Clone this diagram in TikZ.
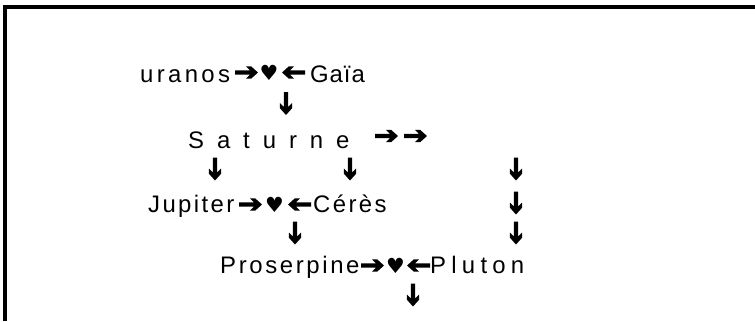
\documentclass[tikz,border=0pt]{standalone}
\usepackage{fontspec}
\setmainfont{Liberation Sans}
\newfontfamily\symfont{DejaVu Sans}
\begin{document}
\begin{tikzpicture}[x=1bp,y=-1bp,
  word/.style={anchor=base west,inner sep=0pt,font=\fontsize{24}{28}\selectfont},
  heart/.style={inner sep=0pt,font=\symfont\fontsize{21}{24}\selectfont},
  bigarrow/.pic={\fill (-11.5,-2.1) -- (3.5,-2.1) -- (-0.5,-6.2) -- (4.6,-6.2) -- (11.5,0)
      -- (4.6,6.2) -- (-0.5,6.2) -- (3.5,2.1) -- (-11.5,2.1) -- cycle;}]
\useasboundingbox (0,0) rectangle (755,321);
\draw[line width=3.6bp] (5,321) -- (5,7) -- (755,7);
% row 1
\node[word] (uranos) at (140,82) {\addfontfeature{LetterSpace=14}uranos};
\pic (r1) at (246.5,72.5) {bigarrow};
\node[heart] (h1) at (269,73) {♥};
\pic[rotate=180] (l1) at (293.5,72.5) {bigarrow};
\node[word] (gaia) at (310,82) {\addfontfeature{LetterSpace=4}Gaïa};
\pic[rotate=-90] (d1) at (286,103.5) {bigarrow};
% row 2
\node[word] (saturne) at (188,148) {\addfontfeature{LetterSpace=54}Saturne};
\pic (r2a) at (386.5,136) {bigarrow};
\pic (r2b) at (415.5,136) {bigarrow};
\pic[rotate=-90] (d2a) at (215,169) {bigarrow};
\pic[rotate=-90] (d2b) at (350,169) {bigarrow};
\pic[rotate=-90] (d2c) at (516,169) {bigarrow};
% row 3
\node[word] (jupiter) at (148,212) {\addfontfeature{LetterSpace=10}Jupiter};
\pic (r3) at (250.5,204.5) {bigarrow};
\node[heart] (h3) at (274.5,205) {♥};
\pic[rotate=180] (l3) at (299.5,204.5) {bigarrow};
\node[word] (ceres) at (313,212) {\addfontfeature{LetterSpace=10}Cérès};
\pic[rotate=-90] (d3c) at (516,203) {bigarrow};
\pic[rotate=-90] (d4a) at (295,233) {bigarrow};
\pic[rotate=-90] (d4c) at (516,233) {bigarrow};
% row 4
\node[word] (proserpine) at (220,273) {\addfontfeature{LetterSpace=11}Proserpine};
\pic (r4) at (372.5,265.5) {bigarrow};
\node[heart] (h4) at (395.5,266) {♥};
\pic[rotate=180] (l4) at (418.5,265.5) {bigarrow};
\node[word] (pluton) at (430,273) {\addfontfeature{LetterSpace=22}Pluton};
\pic[rotate=-90] (d5) at (413,295) {bigarrow};
\end{tikzpicture}
\end{document}
